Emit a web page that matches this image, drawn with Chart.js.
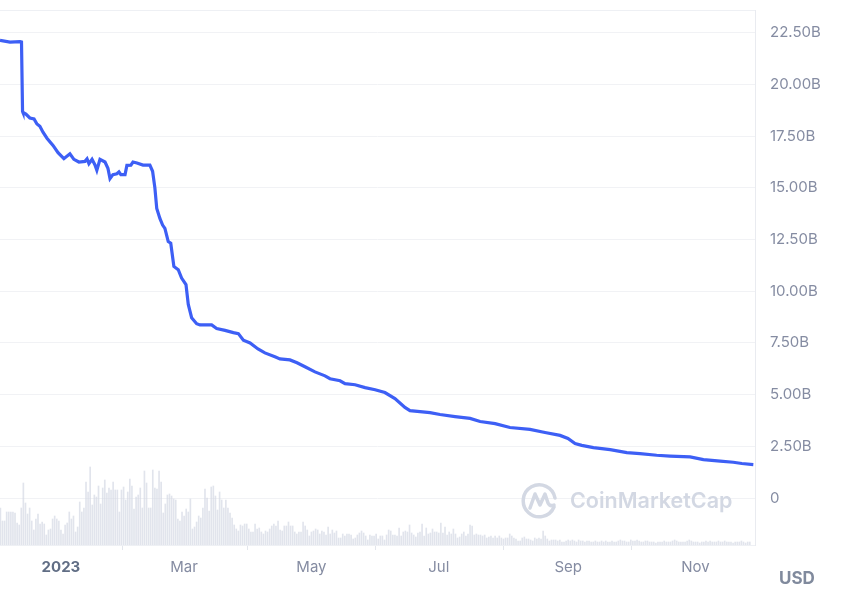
<!DOCTYPE html>
<html>
<head>
<meta charset="utf-8">
<script src="https://cdn.jsdelivr.net/npm/chart.js@4"></script>
<style>
  body { margin: 0; background: #fff; }
  .wrap { position: relative; width: 850px; height: 592px; overflow: hidden; }
  .usd { position: absolute; left: 779px; top: 568px; font: 700 17px Inter, sans-serif; color: #808a9d; }
  .mark { position: absolute; left: 521px; top: 481px; display: flex; align-items: center; }
  .mark span { margin-left: 11px; font: 600 21.5px Inter, sans-serif; color: #d3d8e3; }
</style>
</head>
<body>
<div class="wrap">
  <canvas id="chart" width="850" height="592"></canvas>
  <div class="mark">
    <svg width="38" height="38" viewBox="0 0 38 38">
      <path d="M33 26 A16 16 0 1 1 34 17" fill="none" stroke="#d3d8e3" stroke-width="3.5" stroke-linecap="round"/>
      <path d="M9 27 L14 13 L19 24 L24 13 L27 22 Q29 26 33 24" fill="none" stroke="#d3d8e3" stroke-width="3.5" stroke-linecap="round" stroke-linejoin="round"/>
    </svg>
    <span>CoinMarketCap</span>
  </div>
  <div class="usd">USD</div>
</div>
<script>
// days counted from 2023-01-01
const capDays = [-29.2, -24.4, -19.6, -18.9, -18.4, -18.2, -16.8, -14.9, -12.9, -11.5, -10.1, -8.6, -6.7, -3.8, -1.4,
  1.4, 4.3, 6.2, 8.6, 11.5, 12.5, 13.4, 14.9, 16.3, 17.2, 18.7, 21.1, 22.5, 23.5, 24.9, 26.8, 27.8, 28.7, 30.7, 31.6,
  33.5, 34.5, 36.4, 39.3, 42.6, 43.9, 45.0, 45.9, 47.4, 48.7, 49.8, 51.4, 52.6, 54.1, 56.2, 57.8, 59.9, 61.0, 62.6,
  65.0, 66.6, 72.2, 74.6, 78.6, 82.6, 85.0, 87.4, 90.6, 94.4, 97.7, 102.5, 104.9, 109.7, 113.1, 116.9, 121.7, 126.5,
  128.9, 133.7, 136.1, 140.9, 145.7, 150.5, 155.2, 160.0, 164.8, 167.2, 172.0, 176.8, 181.6, 188.8, 196.0, 200.8,
  208.0, 215.1, 224.7, 231.9, 239.1, 242.9, 246.3, 249.5, 255.1, 263.1, 271.1, 277.4, 285.4, 291.8, 301.4, 307.8,
  315.8, 322.1, 326.2, 331.7];
// market cap, billions USD
const capValues = [22.13, 22.05, 22.07, 22.05, 18.7, 18.65, 18.57, 18.38, 18.33, 18.09, 17.98, 17.69, 17.4, 17.05, 16.7,
  16.41, 16.65, 16.38, 16.25, 16.28, 16.4, 16.17, 16.38, 16.11, 15.85, 16.38, 16.25, 15.95, 15.45, 15.64, 15.68, 15.77, 15.64, 15.64, 16.09,
  16.1, 16.25, 16.2, 16.1, 16.1, 15.8, 15.0, 14.0, 13.52, 13.2, 13.04, 12.4, 12.32, 11.2, 11.04, 10.64, 10.32, 9.36, 8.72,
  8.43, 8.37, 8.37, 8.2, 8.11, 8.0, 7.95, 7.63, 7.5, 7.21, 7.02, 6.83, 6.73, 6.68, 6.54, 6.35, 6.1, 5.91,
  5.77, 5.67, 5.53, 5.48, 5.34, 5.24, 5.1, 4.81, 4.38, 4.23, 4.18, 4.13, 4.04, 3.94, 3.85, 3.7,
  3.6, 3.41, 3.32, 3.17, 3.03, 2.88, 2.64, 2.55, 2.44, 2.34, 2.2, 2.15, 2.07, 2.03, 1.99, 1.86,
  1.79, 1.73, 1.67, 1.62];

// daily volume (relative units), first bar on day -29
const volumeStartDay = -29;
const volumeValues = [
  37,24,24,33,33,33,33,32,22,20, 37,62,42,31,37,24,15,26,31,21, 23,21,10,15,16,26,29,26,24,15,
  11,20,22,33,26,29,13,18,43,33, 37,63,53,78,40,50,48,59,41,57, 65,52,57,55,63,55,55,33,55,58,
  45,53,66,59,36,48,50,57,37,74, 62,37,37,75,57,56,74,63,32,41, 50,51,49,46,45,26,24,33,29,36, 33,
  46,16,18,23,29,27,37,56,47,34, 58,59,49,35,53,45,37,45,37,32, 27,20,16,14,20,19,21,21,16,13,
  13,21,16,17,13,11,14,13,16,19, 21,19,24,15,14,19,19,23,19,19, 13,11,13,13,23,19,15,9,13,14,
  16,15,11,14,13,10,18,11,15,12, 14,7,7,11,9,11,11,10,6,7, 10,12,14,12,9,5,10,9,9,11, 6,9,
  9,5,10,15,14,10,10,9,17,9, 13,14,13,20,12,10,8,12,13,21, 9,17,11,12,16,13,13,12,22,12,
  18,10,13,11,16,11,7,8,11,13, 9,11,20,19,10,11,10,10,9,10, 7,8,9,7,9,7,9,7,6,7,
  7,11,9,7,6,4,4,7,8,6, 6,5,4,7,6,7,6,14,9,6, 4,5,5,5,4,5,3,3,4,
  5,4,5,4,3,5,4,4,3,4, 4,3,3,4,3,3,4,3,4,3, 3,4,3,3,4,5,4,4,3,3, 5,4,4,5,4,3,3,4,4,3,
  3,3,2,3,3,3,4,3,3,3, 4,5,4,3,3,3,3,4,5,4, 3,3,3,2,3,3,4,3,4,3, 3,3,4,3,3,4,3,3,3,2,
  3,3,3,4,3,2,3,3
];

const monthTickDays = [0, 59, 120, 181, 243, 304];
const monthTickLabels = ["2023", "Mar", "May", "Jul", "Sep", "Nov"];
const yTickValues = [0, 2.5, 5, 7.5, 10, 12.5, 15, 17.5, 20, 22.5];
const yTickLabels = ["0", "2.50B", "5.00B", "7.50B", "10.00B", "12.50B", "15.00B", "17.50B", "20.00B", "22.50B"];

const capData = capDays.map((d, i) => ({ x: d, y: capValues[i] }));
const volumeData = volumeValues.map((v, i) => ({ x: volumeStartDay + i, y: v }));

// top border of plot area
const topBorder = {
  id: "topBorder",
  beforeDatasetsDraw(chart) {
    const { ctx, chartArea } = chart;
    ctx.save();
    ctx.strokeStyle = "#eef0f4";
    ctx.lineWidth = 1;
    ctx.beginPath();
    ctx.moveTo(chartArea.left, chartArea.top + 0.5);
    ctx.lineTo(chartArea.right, chartArea.top + 0.5);
    ctx.stroke();
    ctx.restore();
  },
};

new Chart(document.getElementById("chart"), {
  type: "line",
  data: {
    datasets: [
      {
        type: "line",
        data: capData,
        borderColor: "#3d5ff5",
        borderWidth: 3.2,
        pointRadius: 0,
        tension: 0,
        yAxisID: "y",
      },
      {
        type: "bar",
        data: volumeData,
        backgroundColor: "rgba(212, 216, 228, 0.7)",
        barThickness: 1,
        yAxisID: "y2",
      },
    ],
  },
  options: {
    responsive: false,
    animation: false,
    layout: { padding: { top: 10, left: 0, right: 0, bottom: 0 } },
    plugins: { legend: { display: false }, tooltip: { enabled: false } },
    scales: {
      x: {
        type: "linear",
        min: -29.2,
        max: 332.5,
        offset: false,
        afterBuildTicks: (scale) => {
          scale.ticks = monthTickDays.map((v) => ({ value: v }));
        },
        afterFit: (scale) => {
          scale.height = 47;
          scale.paddingLeft = 0;
          scale.paddingRight = 0;
        },
        grid: { drawOnChartArea: false, tickLength: 5, color: "#e3e6ec" },
        border: { color: "#eef0f4" },
        ticks: {
          autoSkip: false,
          maxRotation: 0,
          padding: 8,
          color: (c) => (c.tick && c.tick.value === 0 ? "#616e85" : "#858ca2"),
          font: (c) => ({
            family: "Inter",
            size: 15,
            weight: c.tick && c.tick.value === 0 ? "bold" : "normal",
          }),
          callback: (v) => monthTickLabels[monthTickDays.indexOf(v)],
        },
      },
      y: {
        position: "right",
        min: -2.27,
        max: 23.6,
        afterBuildTicks: (scale) => {
          scale.ticks = yTickValues.map((v) => ({ value: v }));
        },
        afterFit: (scale) => {
          scale.width = 95;
          scale.paddingTop = 0;
          scale.paddingBottom = 0;
        },
        grid: { color: "#f1f2f5", drawTicks: false },
        border: { color: "#e9ebf0" },
        ticks: {
          padding: 15,
          color: "#858ca2",
          font: { family: "Inter", size: 15 },
          callback: (v) => yTickLabels[yTickValues.indexOf(v)],
        },
      },
      y2: {
        display: false,
        min: 0,
        max: 535,
      },
    },
  },
  plugins: [topBorder],
});
</script>
</body>
</html>
